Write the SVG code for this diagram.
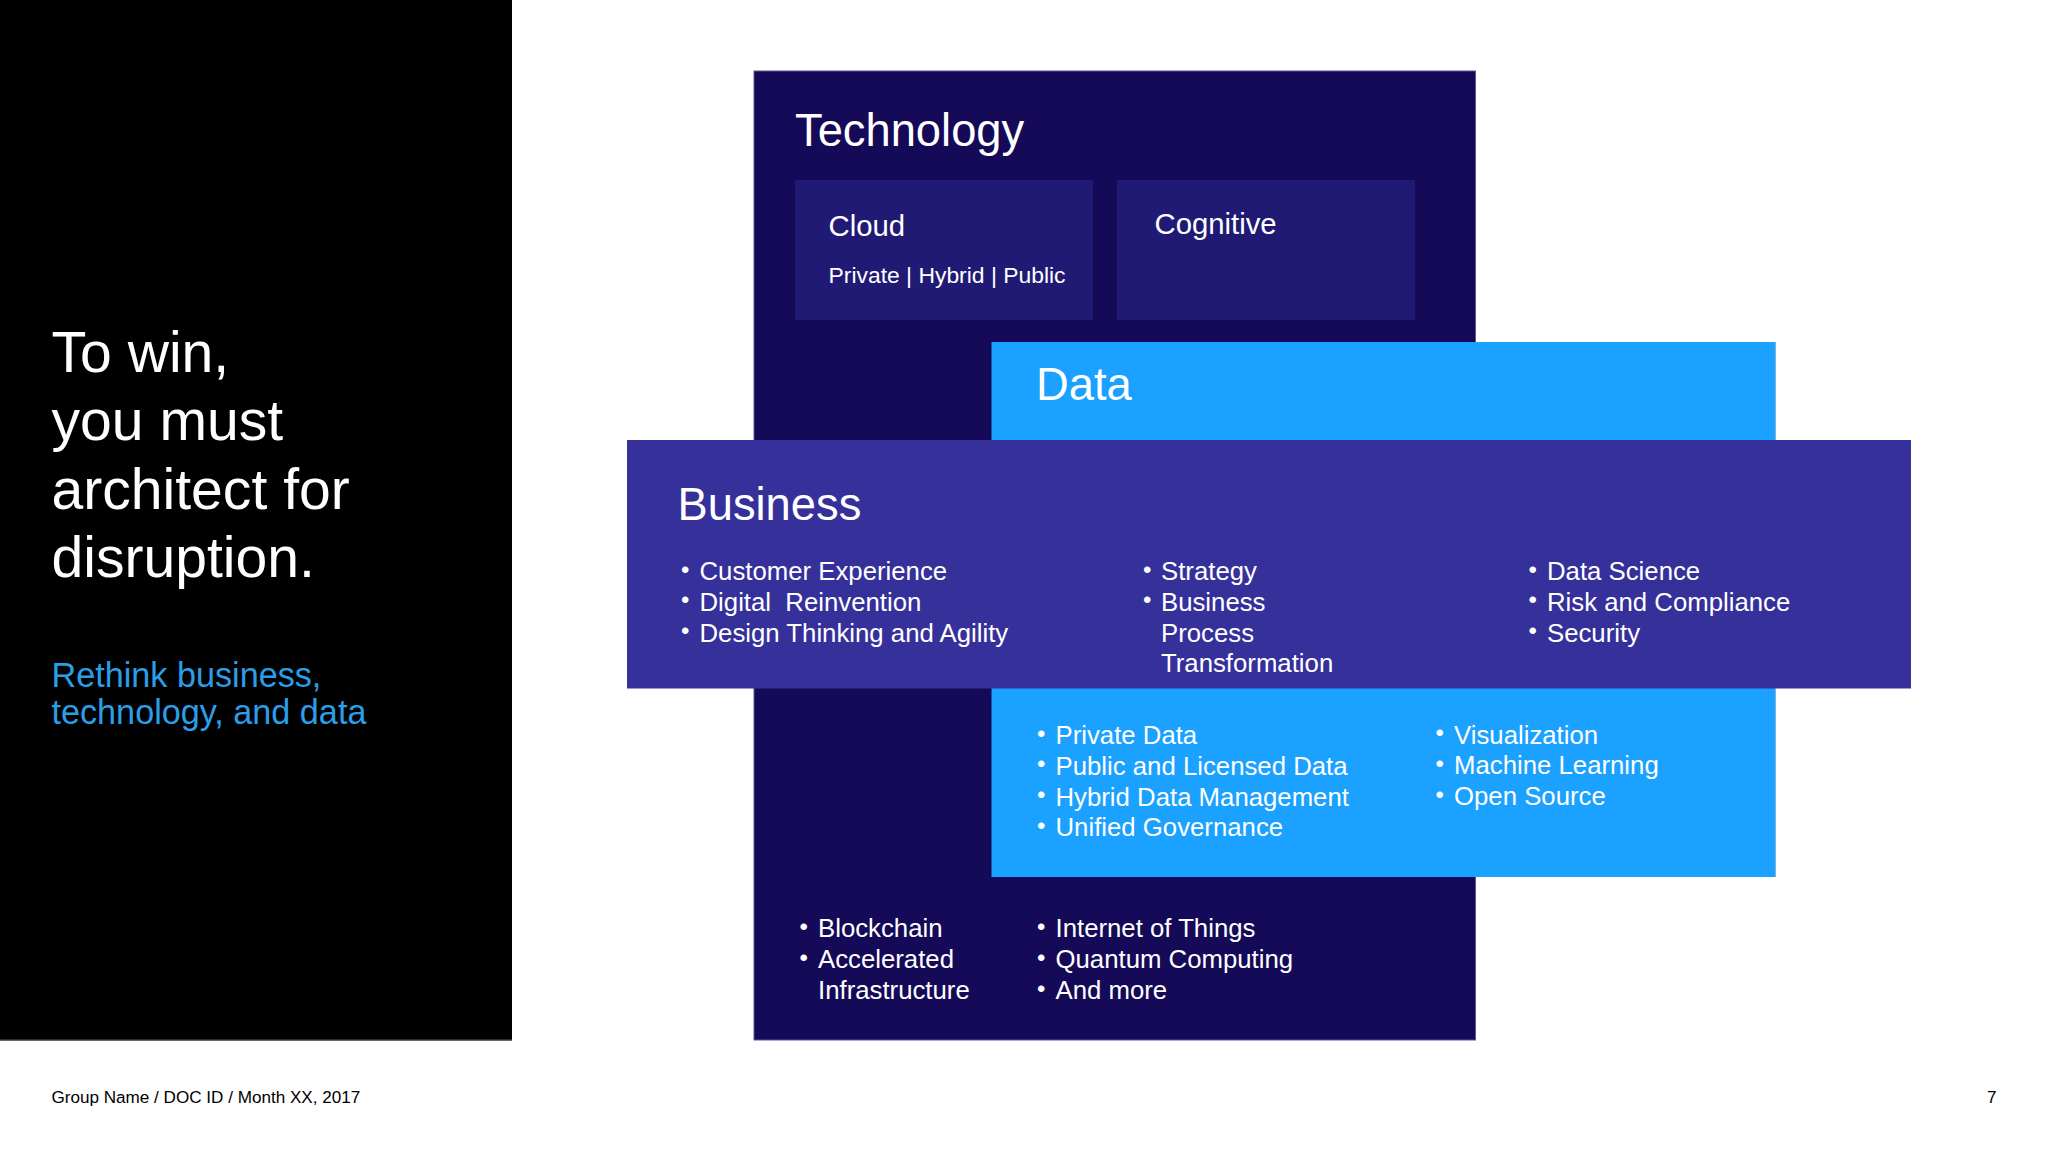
<svg xmlns="http://www.w3.org/2000/svg" width="2048" height="1152" viewBox="0 0 2048 1152">
<style>
text{font-family:"Liberation Sans",Arial,sans-serif;fill:#fff;white-space:pre}
.h{font-size:45.3px}
.s{font-size:29.3px}
.p{font-size:22.9px}
.l{font-size:25.75px}
.t{font-size:57.1px}
.r{font-size:34.2px;fill:#2a9fe8}
.f{font-size:17.1px;fill:#000}
.b{font-size:24px}
</style>
<rect width="2048" height="1152" fill="#fff"/>
<g id="panel">
<rect x="0" y="0" width="512" height="1040.5" fill="#000"/>
<rect x="0" y="1039.5" width="512" height="1" fill="#555"/>
<text class="t" x="51.5" y="372">To win,</text>
<text class="t" x="51.5" y="440">you must</text>
<text class="t" x="51.5" y="508.5">architect for</text>
<text class="t" x="51.5" y="576.5">disruption.</text>
<text class="r" x="51.5" y="687">Rethink business,</text>
<text class="r" x="51.5" y="723.5">technology, and data</text>
</g>
<g id="technology">
<rect x="754" y="71" width="721.5" height="969" fill="#140a58" stroke="#5d559c" stroke-width="1"/>
<text class="h" x="795" y="145.5">Technology</text>
</g>
<g id="cloud">
<rect x="795" y="180" width="298" height="140" fill="#211a75"/>
<text class="s" x="828.5" y="235.5">Cloud</text>
<text class="p" x="828.5" y="283">Private | Hybrid | Public</text>
</g>
<g id="cognitive">
<rect x="1117" y="180" width="298" height="140" fill="#211a75"/>
<text class="s" x="1154.5" y="234">Cognitive</text>
</g>
<g id="tech-list">
<text class="l"><tspan class="b" x="799.5" y="934.5">•</tspan><tspan x="818" y="936.5">Blockchain</tspan><tspan class="b" x="799.5" y="965.5">•</tspan><tspan x="818" y="967.5">Accelerated</tspan><tspan x="818" y="998.5">Infrastructure</tspan></text>
<text class="l"><tspan class="b" x="1037" y="934.5">•</tspan><tspan x="1055.5" y="936.5">Internet of Things</tspan><tspan class="b" x="1037" y="965.5">•</tspan><tspan x="1055.5" y="967.5">Quantum Computing</tspan><tspan class="b" x="1037" y="996.5">•</tspan><tspan x="1055.5" y="998.5">And more</tspan></text>
</g>
<g id="data">
<rect x="991.5" y="342" width="784" height="535" fill="#1ba1ff"/>
<rect x="1774.5" y="342" width="1" height="535" fill="#4a9fd8"/>
<text class="h" x="1036" y="400">Data</text>
<text class="l"><tspan class="b" x="1037" y="741.5">•</tspan><tspan x="1055.5" y="744">Private Data</tspan><tspan class="b" x="1037" y="772">•</tspan><tspan x="1055.5" y="774.5">Public and Licensed Data</tspan><tspan class="b" x="1037" y="803">•</tspan><tspan x="1055.5" y="805.5">Hybrid Data Management</tspan><tspan class="b" x="1037" y="833.5">•</tspan><tspan x="1055.5" y="836">Unified Governance</tspan></text>
<text class="l"><tspan class="b" x="1435.5" y="741">•</tspan><tspan x="1454" y="743.5">Visualization</tspan><tspan class="b" x="1435.5" y="771.5">•</tspan><tspan x="1454" y="774">Machine Learning</tspan><tspan class="b" x="1435.5" y="802.5">•</tspan><tspan x="1454" y="805">Open Source</tspan></text>
</g>
<g id="business">
<rect x="627" y="440" width="1284" height="248.5" fill="#36309b"/>
<text class="h" x="677.5" y="519.5">Business</text>
<text class="l"><tspan class="b" x="681" y="577.5">•</tspan><tspan x="699.5" y="580">Customer Experience</tspan><tspan class="b" x="681" y="608">•</tspan><tspan x="699.5" y="610.5">Digital  Reinvention</tspan><tspan class="b" x="681" y="639">•</tspan><tspan x="699.5" y="641.5">Design Thinking and Agility</tspan></text>
<text class="l"><tspan class="b" x="1143" y="577.5">•</tspan><tspan x="1161" y="580">Strategy</tspan><tspan class="b" x="1143" y="608">•</tspan><tspan x="1161" y="610.5">Business</tspan><tspan x="1161" y="641.5">Process</tspan><tspan x="1161" y="672">Transformation</tspan></text>
<text class="l"><tspan class="b" x="1528.5" y="577.5">•</tspan><tspan x="1547" y="580">Data Science</tspan><tspan class="b" x="1528.5" y="608">•</tspan><tspan x="1547" y="610.5">Risk and Compliance</tspan><tspan class="b" x="1528.5" y="639">•</tspan><tspan x="1547" y="641.5">Security</tspan></text>
</g>
<g id="footer">
<text class="f" x="51.5" y="1103">Group Name / DOC ID / Month XX, 2017</text>
<text class="f" x="1987" y="1103">7</text>
</g>
</svg>
